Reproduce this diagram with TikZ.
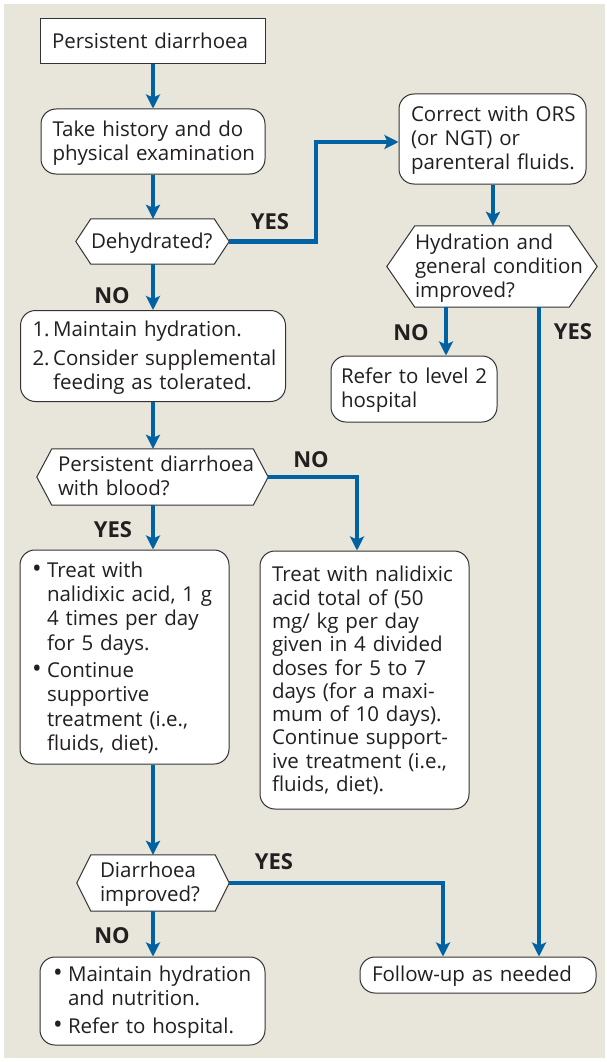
\documentclass[tikz,border=0pt]{standalone}
\usepackage{fontspec}
\setmainfont{Open Sans}
\usetikzlibrary{arrows.meta,calc}
\pgfdeclarelayer{bg}
\pgfdeclarelayer{hexl}
\pgfsetlayers{bg,hexl,main}
\definecolor{beige}{HTML}{E8E5DA}
\definecolor{flowblue}{HTML}{0062A2}
\definecolor{edgecol}{HTML}{333333}
\definecolor{txt}{HTML}{231F20}
\newcommand{\tb}[1]{\begin{tabular}{@{}l@{}}\rule{0pt}{\dimexpr\ht\strutbox+4pt\relax}#1\end{tabular}}
\newcommand{\bul}{\makebox[15pt][l]{\scalebox{1.25}{\textbullet}}}
\newcommand{\ind}{\hspace*{15pt}}
\begin{document}
\begin{tikzpicture}[x=1pt,y=-1pt,
  every node/.style={font=\fontsize{20.5}{23.8}\selectfont, text=txt},
  box/.style={draw=edgecol, line width=1pt, fill=white, align=left, inner ysep=0pt, inner xsep=12pt},
  rbox/.style={box, rounded corners=15pt},
  hexnode/.style={align=left, inner ysep=0pt},
  lbl/.style={font=\fontsize{22}{24}\selectfont\bfseries, inner sep=0pt},
  flow/.style={draw=flowblue, line width=4.6pt, -{Stealth[length=14pt,width=14pt,inset=3pt]}},
]
\useasboundingbox (0,0) rectangle (607,1062);
\begin{pgfonlayer}{bg}
\fill[beige] (4,4) rectangle (605,1058);
\end{pgfonlayer}

% x positions
\coordinate (xm) at (153,0);
\coordinate (x446) at (446,0);
\coordinate (x539) at (539,0);
\coordinate (x357) at (357,0);
\coordinate (x443) at (443,0);
\coordinate (x493) at (493,0);
\coordinate (c1) at (316,142);

\node[box, text width=201pt, minimum height=45pt] (n1) at (152.5,41.5) {\tb{Persistent diarrhoea}};
\node[rbox, text width=201pt, inner xsep=11.5pt, minimum height=65pt] (n2) at (153,141.5) {\tb{Take history and do\\physical examination}};
\node[hexnode, text width=123pt, inner xsep=15pt, minimum height=45pt] (d1) at (152.5,241.5) {\tb{Dehydrated?}};
\node[rbox, text width=163pt, minimum height=90pt] (n3) at (492.5,139) {\tb{Correct with ORS\\(or NGT) or\\parenteral fluids.}};
\node[hexnode, text width=154pt, inner xsep=28pt, minimum height=81pt] (d2) at (492,266.5) {\tb{Hydration and\\general condition\\improved?}};
\node[rbox, text width=146pt, inner xsep=10pt, minimum height=66pt] (n4) at (414,389) {\tb{Refer to level 2\\hospital}};
\node[rbox, text width=241pt, minimum height=91pt] (n5) at (153,356) {\tb{1.\,Maintain hydration.\\[5pt]2.\,Consider supplemental\\\hphantom{2.\,}feeding as tolerated.}};
\node[hexnode, text width=189pt, inner xsep=21pt, minimum height=56pt] (d3) at (152.5,477) {\tb{Persistent diarrhoea\\with blood?}};
\node[rbox, text width=185pt, minimum height=214pt, font=\fontsize{20.5}{24.3}\selectfont] (n6) at (124.5,657) {\tb{\bul Treat with\\\ind nalidixic acid, 1 g\\\ind 4 times per day\\\ind for 5 days.\\[3pt]\bul Continue\\\ind supportive\\\ind treatment (i.e.,\\\ind fluids, diet).}};
\node[rbox, text width=185pt, minimum height=258pt, font=\fontsize{20.5}{23.3}\selectfont] (n7) at (364.5,680) {\tb{Treat with nalidixic\\acid total of (50\\mg/ kg per day\\given in 4 divided\\doses for 5 to 7\\days (for a maxi-\\mum of 10 days).\\Continue support-\\ive treatment (i.e.,\\fluids, diet).}};
\node[hexnode, text width=106pt, inner xsep=23pt, minimum height=56pt] (d4) at (153,883) {\tb{Diarrhoea\\improved?}};
\node[rbox, text width=199pt, inner xsep=13pt, minimum height=88pt] (n8) at (152.5,1001) {\tb{\bul Maintain hydration\\\ind and nutrition.\\[4pt]\bul Refer to hospital.}};
\node[rbox, text width=212pt, minimum height=36pt] (n9) at (478,975) {\tb{Follow-up as needed}};

\begin{pgfonlayer}{hexl}
\foreach \n/\i in {d1/15,d2/28,d3/15,d4/14}{
  \draw[draw=edgecol, line width=1pt, fill=white] (\n.west) -- ([xshift=\i pt]\n.north west) -- ([xshift=-\i pt]\n.north east) -- (\n.east) -- ([xshift=-\i pt]\n.south east) -- ([xshift=\i pt]\n.south west) -- cycle;
}
\end{pgfonlayer}

% labels
\node[lbl] (l1) at (270,222) {YES};
\node[lbl] (l2) at (112,296) {NO};
\node[lbl] (l3) at (411,333) {NO};
\node[lbl] (l4) at (573,332) {YES};
\node[lbl] (l5) at (311,460) {NO};
\node[lbl] (l6) at (113,530) {YES};
\node[lbl] (l7) at (274,862) {YES};
\node[lbl] (l8) at (112,936) {NO};

% connectors
\draw[flow] (xm |- n1.south) -- (xm |- n2.north);
\draw[flow] (xm |- n2.south) -- (xm |- d1.north);
\draw[flow] (d1.east) -| (c1) -- (c1 -| n3.west);
\draw[flow] (x493 |- n3.south) -- (x493 |- d2.north);
\draw[flow] (x446 |- d2.south) -- (x446 |- n4.north);
\draw[flow] (x539 |- d2.south) -- (x539 |- n9.north);
\draw[flow] (xm |- d1.south) -- (xm |- n5.north);
\draw[flow] (xm |- n5.south) -- (xm |- d3.north);
\draw[flow] (xm |- d3.south) -- (xm |- n6.north);
\draw[flow] (d3.east) -| (x357 |- n7.north);
\draw[flow] (xm |- n6.south) -- (xm |- d4.north);
\draw[flow] (d4.east) -| (x443 |- n9.north);
\draw[flow] (xm |- d4.south) -- (xm |- n8.north);
\end{tikzpicture}
\end{document}
